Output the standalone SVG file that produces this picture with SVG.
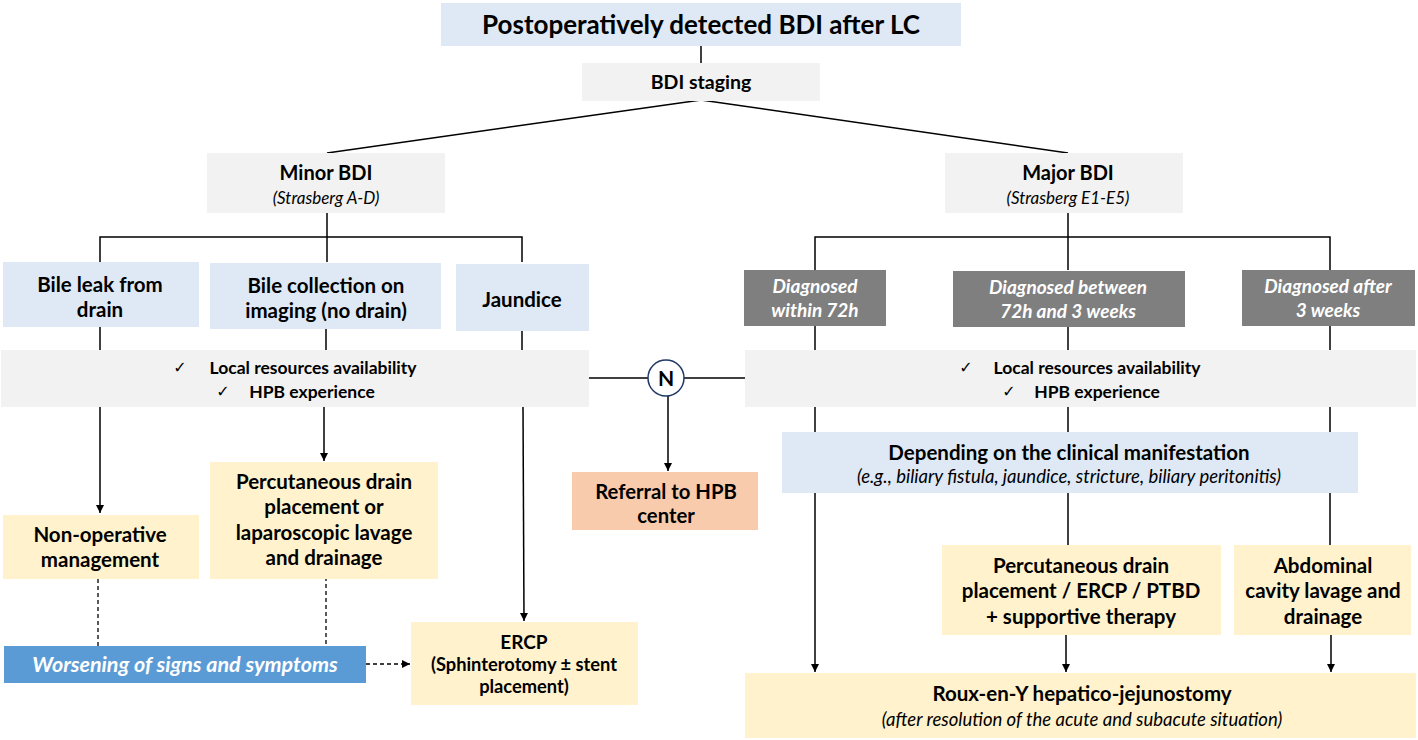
<svg xmlns="http://www.w3.org/2000/svg" width="1418" height="740" viewBox="0 0 1418 740">
<defs>
<marker id="ah" viewBox="0 0 10 10" refX="10" refY="5" markerWidth="8" markerHeight="8" markerUnits="userSpaceOnUse" orient="auto"><path d="M0,0 L10,5 L0,10 z" fill="#000"/></marker>
<style>
.t{font-family:Lato,"Open Sans","Liberation Sans",sans-serif;font-weight:bold;fill:#000;text-anchor:middle}
.i{font-family:Lato,"Open Sans","Liberation Sans",sans-serif;font-style:italic;fill:#000;text-anchor:middle}
.ck{font-family:"DejaVu Sans",sans-serif;font-weight:normal;fill:#000;text-anchor:middle}
.w{fill:#fff}
.blue{fill:#dee9f5}
.gray{fill:#f2f2f2}
.dark{fill:#7f7f7f}
.yel{fill:#fff2cc}
.org{fill:#f8cbad}
.line{stroke:#000;stroke-width:1.5;fill:none}
.dash{stroke:#000;stroke-width:1.3;fill:none;stroke-dasharray:4,3}
</style>
</defs>
<rect width="1418" height="740" fill="#fff"/>

<g id="connectors">
<line class="line" x1="701" y1="46" x2="701" y2="63"/>
<line class="line" x1="701" y1="100" x2="327" y2="153"/>
<line class="line" x1="701" y1="100" x2="1068" y2="153"/>
<polyline class="line" points="327,212 327,237"/>
<polyline class="line" points="100,262 100,237 522,237 522,262"/>
<line class="line" x1="327" y1="237" x2="327" y2="262"/>
<line class="line" x1="1068" y1="212" x2="1068" y2="270"/>
<polyline class="line" points="815,270 815,237 1330,237 1330,270"/>
<line class="line" x1="100" y1="327" x2="100" y2="350"/>
<line class="line" x1="326" y1="329" x2="326" y2="350"/>
<line class="line" x1="522" y1="331" x2="522" y2="350"/>
<line class="line" x1="815" y1="326" x2="815" y2="350"/>
<line class="line" x1="1068" y1="327" x2="1068" y2="350"/>
<line class="line" x1="1330" y1="326" x2="1330" y2="350"/>
<line class="line" x1="589" y1="378" x2="648" y2="378"/>
<line class="line" x1="684" y1="378" x2="745" y2="378"/>
<line class="line" x1="100" y1="407" x2="100" y2="513" marker-end="url(#ah)"/>
<line class="line" x1="324" y1="407" x2="324" y2="461" marker-end="url(#ah)"/>
<line class="line" x1="523" y1="407" x2="524" y2="621" marker-end="url(#ah)"/>
<line class="line" x1="668" y1="396" x2="668" y2="471" marker-end="url(#ah)"/>
<line class="line" x1="815" y1="407" x2="815" y2="432"/>
<line class="line" x1="1068" y1="407" x2="1068" y2="432"/>
<line class="line" x1="1330" y1="407" x2="1330" y2="432"/>
<line class="line" x1="815" y1="493" x2="815" y2="672" marker-end="url(#ah)"/>
<line class="line" x1="1068" y1="493" x2="1068" y2="545"/>
<line class="line" x1="1330" y1="493" x2="1330" y2="545"/>
<line class="line" x1="1066" y1="635" x2="1066" y2="672" marker-end="url(#ah)"/>
<line class="line" x1="1331" y1="635" x2="1331" y2="672" marker-end="url(#ah)"/>
<line class="dash" x1="98" y1="579" x2="98" y2="646"/>
<line class="dash" x1="326" y1="570" x2="326" y2="646"/>
<line class="dash" x1="366" y1="664" x2="410" y2="664" marker-end="url(#ah)"/>
</g>

<g id="title"><rect class="blue" x="441" y="3" width="520" height="43"/>
<text class="t" x="701" y="34" font-size="26">Postoperatively detected BDI after LC</text></g>

<g id="staging"><rect class="gray" x="582" y="63" width="238" height="38"/>
<text class="t" x="701" y="89" font-size="19.5">BDI staging</text></g>

<g id="minor"><rect class="gray" x="207" y="153" width="238" height="60"/>
<text class="t" x="326" y="180" font-size="20">Minor BDI</text>
<text class="i" x="326" y="204" font-size="17">(Strasberg A-D)</text></g>

<g id="major"><rect class="gray" x="945" y="153" width="238" height="60"/>
<text class="t" x="1068" y="180" font-size="20">Major BDI</text>
<text class="i" x="1068" y="204" font-size="17">(Strasberg E1-E5)</text></g>

<g id="bileleak"><rect class="blue" x="3" y="262" width="196" height="65"/>
<text class="t" x="100" y="292" font-size="20.5">Bile leak from</text>
<text class="t" x="100" y="317" font-size="20.5">drain</text></g>

<g id="bilecollection"><rect class="blue" x="210" y="263" width="231" height="66"/>
<text class="t" x="326" y="293" font-size="20.5">Bile collection on</text>
<text class="t" x="326" y="318" font-size="20.5">imaging (no drain)</text></g>

<g id="jaundice"><rect class="blue" x="456" y="264" width="133" height="67"/>
<text class="t" x="522" y="307" font-size="20.5">Jaundice</text></g>

<g id="dx72"><rect class="dark" x="744" y="270" width="142" height="56"/>
<text class="i w" font-weight="bold" x="815" y="293" font-size="19">Diagnosed</text>
<text class="i w" font-weight="bold" x="815" y="317" font-size="19">within 72h</text></g>

<g id="dxbetween"><rect class="dark" x="953" y="271" width="232" height="56"/>
<text class="i w" font-weight="bold" x="1068" y="294" font-size="19">Diagnosed between</text>
<text class="i w" font-weight="bold" x="1068" y="318" font-size="19">72h and 3 weeks</text></g>

<g id="dxafter"><rect class="dark" x="1242" y="270" width="173" height="56"/>
<text class="i w" font-weight="bold" x="1328" y="293" font-size="19">Diagnosed after</text>
<text class="i w" font-weight="bold" x="1328" y="317" font-size="19">3 weeks</text></g>

<g id="bandleft"><rect class="gray" x="1" y="350" width="588" height="57"/>
<text class="ck" x="180" y="373" font-size="16">✓</text>
<text class="t" x="313" y="374" font-size="17.5">Local resources availability</text>
<text class="ck" x="223" y="397" font-size="16">✓</text>
<text class="t" x="312" y="398" font-size="17.5">HPB experience</text></g>

<g id="bandright"><rect class="gray" x="745" y="350" width="671" height="57"/>
<text class="ck" x="966" y="373" font-size="16">✓</text>
<text class="t" x="1097" y="374" font-size="17.5">Local resources availability</text>
<text class="ck" x="1009" y="397" font-size="16">✓</text>
<text class="t" x="1097" y="398" font-size="17.5">HPB experience</text></g>

<g id="n"><circle cx="666" cy="378" r="18" fill="#fff" stroke="#203864" stroke-width="1.5"/>
<text class="t" x="666" y="386" font-size="21">N</text></g>

<g id="depending"><rect class="blue" x="782" y="432" width="576" height="61"/>
<text class="t" x="1069" y="460" font-size="20.5">Depending on the clinical manifestation</text>
<text class="i" x="1069" y="483" font-size="18.5">(e.g., biliary fistula, jaundice, stricture, biliary peritonitis)</text></g>

<g id="referral"><rect class="org" x="572" y="472" width="186" height="58"/>
<text class="t" x="666" y="499" font-size="20.3">Referral to HPB</text>
<text class="t" x="666" y="523" font-size="20.3">center</text></g>

<g id="nonop"><rect class="yel" x="3" y="515" width="196" height="64"/>
<text class="t" x="100" y="542" font-size="20.5">Non-operative</text>
<text class="t" x="100" y="567" font-size="20.5">management</text></g>

<g id="percleft"><rect class="yel" x="210" y="462" width="228" height="117"/>
<text class="t" x="324" y="489" font-size="20.5">Percutaneous drain</text>
<text class="t" x="324" y="514" font-size="20.5">placement or</text>
<text class="t" x="324" y="540" font-size="20.5">laparoscopic lavage</text>
<text class="t" x="324" y="565" font-size="20.5">and drainage</text></g>

<g id="ercp"><rect class="yel" x="411" y="622" width="227" height="83"/>
<text class="t" x="524" y="649" font-size="19">ERCP</text>
<text class="t" x="524" y="671" font-size="18.3">(Sphinterotomy ± stent</text>
<text class="t" x="524" y="693" font-size="18.3">placement)</text></g>

<g id="worsening"><rect x="4" y="646" width="362" height="37" fill="#5b9bd5"/>
<text class="i w" font-weight="bold" x="185" y="672" font-size="21.5">Worsening of signs and symptoms</text></g>

<g id="percright"><rect class="yel" x="942" y="545" width="279" height="90"/>
<text class="t" x="1081" y="573" font-size="20.5">Percutaneous drain</text>
<text class="t" x="1081" y="598" font-size="20.5">placement / ERCP / PTBD</text>
<text class="t" x="1081" y="624" font-size="20.5">+ supportive therapy</text></g>

<g id="abdominal"><rect class="yel" x="1234" y="545" width="177" height="90"/>
<text class="t" x="1323" y="573" font-size="20.5">Abdominal</text>
<text class="t" x="1323" y="598" font-size="20.5">cavity lavage and</text>
<text class="t" x="1323" y="624" font-size="20.5">drainage</text></g>

<g id="roux"><rect class="yel" x="745" y="673" width="671" height="65"/>
<text class="t" x="1082" y="701" font-size="20.5">Roux-en-Y hepatico-jejunostomy</text>
<text class="i" x="1082" y="726" font-size="18.5">(after resolution of the acute and subacute situation)</text></g>
</svg>
